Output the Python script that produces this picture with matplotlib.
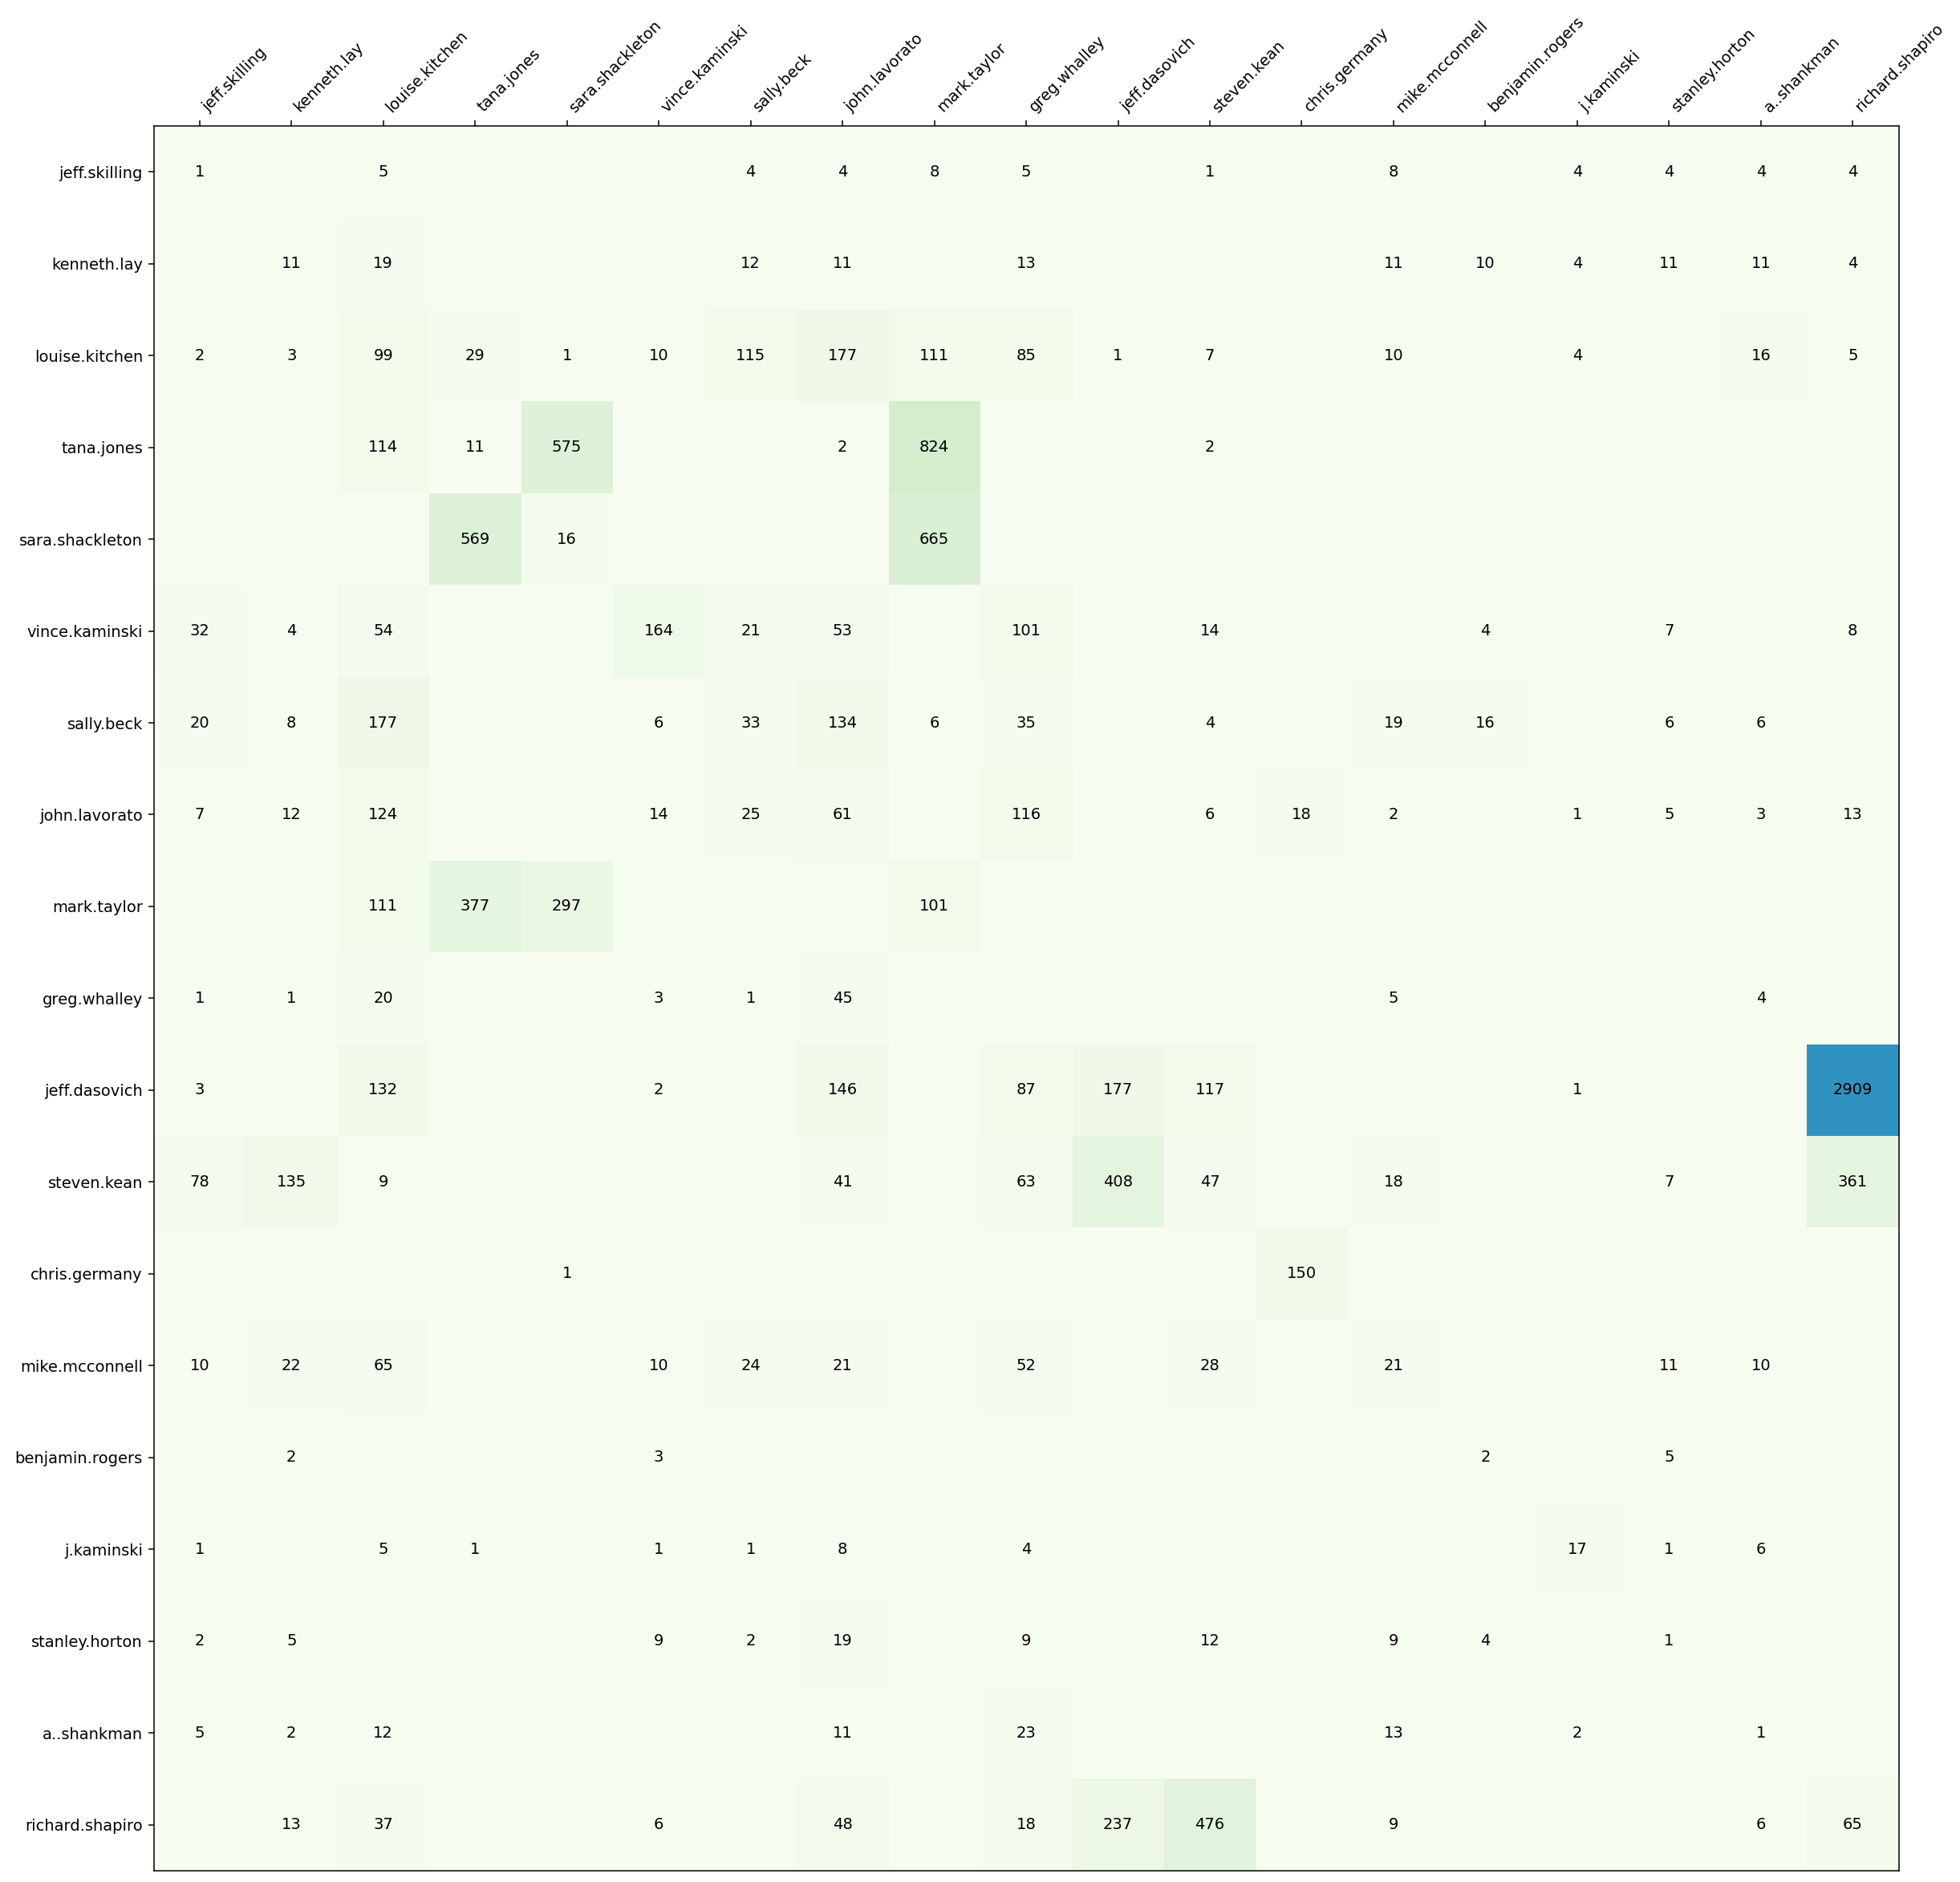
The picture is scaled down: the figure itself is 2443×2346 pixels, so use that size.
import matplotlib
matplotlib.use("Agg")
import matplotlib.pyplot as plt
import numpy as np

# people (same order on both axes)
names = ['jeff.skilling', 'kenneth.lay', 'louise.kitchen', 'tana.jones',
         'sara.shackleton', 'vince.kaminski', 'sally.beck', 'john.lavorato',
         'mark.taylor', 'greg.whalley', 'jeff.dasovich', 'steven.kean',
         'chris.germany', 'mike.mcconnell', 'benjamin.rogers', 'j.kaminski',
         'stanley.horton', 'a..shankman', 'richard.shapiro']

# email counts, one row per person
jeff_skilling   = [1, 0, 5, 0, 0, 0, 4, 4, 8, 5, 0, 1, 0, 8, 0, 4, 4, 4, 4]
kenneth_lay     = [0, 11, 19, 0, 0, 0, 12, 11, 0, 13, 0, 0, 0, 11, 10, 4, 11, 11, 4]
louise_kitchen  = [2, 3, 99, 29, 1, 10, 115, 177, 111, 85, 1, 7, 0, 10, 0, 4, 0, 16, 5]
tana_jones      = [0, 0, 114, 11, 575, 0, 0, 2, 824, 0, 0, 2, 0, 0, 0, 0, 0, 0, 0]
sara_shackleton = [0, 0, 0, 569, 16, 0, 0, 0, 665, 0, 0, 0, 0, 0, 0, 0, 0, 0, 0]
vince_kaminski  = [32, 4, 54, 0, 0, 164, 21, 53, 0, 101, 0, 14, 0, 0, 4, 0, 7, 0, 8]
sally_beck      = [20, 8, 177, 0, 0, 6, 33, 134, 6, 35, 0, 4, 0, 19, 16, 0, 6, 6, 0]
john_lavorato   = [7, 12, 124, 0, 0, 14, 25, 61, 0, 116, 0, 6, 18, 2, 0, 1, 5, 3, 13]
mark_taylor     = [0, 0, 111, 377, 297, 0, 0, 0, 101, 0, 0, 0, 0, 0, 0, 0, 0, 0, 0]
greg_whalley    = [1, 1, 20, 0, 0, 3, 1, 45, 0, 0, 0, 0, 0, 5, 0, 0, 0, 4, 0]
jeff_dasovich   = [3, 0, 132, 0, 0, 2, 0, 146, 0, 87, 177, 117, 0, 0, 0, 1, 0, 0, 2909]
steven_kean     = [78, 135, 9, 0, 0, 0, 0, 41, 0, 63, 408, 47, 0, 18, 0, 0, 7, 0, 361]
chris_germany   = [0, 0, 0, 0, 1, 0, 0, 0, 0, 0, 0, 0, 150, 0, 0, 0, 0, 0, 0]
mike_mcconnell  = [10, 22, 65, 0, 0, 10, 24, 21, 0, 52, 0, 28, 0, 21, 0, 0, 11, 10, 0]
benjamin_rogers = [0, 2, 0, 0, 0, 3, 0, 0, 0, 0, 0, 0, 0, 0, 2, 0, 5, 0, 0]
j_kaminski      = [1, 0, 5, 1, 0, 1, 1, 8, 0, 4, 0, 0, 0, 0, 0, 17, 1, 6, 0]
stanley_horton  = [2, 5, 0, 0, 0, 9, 2, 19, 0, 9, 0, 12, 0, 9, 4, 0, 1, 0, 0]
a_shankman      = [5, 2, 12, 0, 0, 0, 0, 11, 0, 23, 0, 0, 0, 13, 0, 2, 0, 1, 0]
richard_shapiro = [0, 13, 37, 0, 0, 6, 0, 48, 0, 18, 237, 476, 0, 9, 0, 0, 0, 6, 65]

counts = np.array([jeff_skilling, kenneth_lay, louise_kitchen, tana_jones,
                   sara_shackleton, vince_kaminski, sally_beck, john_lavorato,
                   mark_taylor, greg_whalley, jeff_dasovich, steven_kean,
                   chris_germany, mike_mcconnell, benjamin_rogers, j_kaminski,
                   stanley_horton, a_shankman, richard_shapiro])

fs = 14
fig = plt.figure(figsize=(24.43, 23.46), dpi=100)
ax = fig.add_axes([0.0782, 0.006, 0.8907, 0.9271])

ax.matshow(counts, cmap='GnBu', vmin=0, vmax=4000)

# annotate the non-zero cells
for i in range(counts.shape[0]):
    for j in range(counts.shape[1]):
        if counts[i, j] != 0:
            ax.text(j, i, str(counts[i, j]), ha='center', va='center',
                    color='k', fontsize=fs)

ax.set_xticks(range(len(names)))
ax.set_yticks(range(len(names)))
ax.set_xticklabels(names, rotation=45, ha='left', fontsize=fs)
ax.set_yticklabels(names, fontsize=fs)
ax.tick_params(length=4.9, width=1.1, pad=4.9)
ax.tick_params(axis='x', bottom=False, labelbottom=False)
for sp in ax.spines.values():
    sp.set_linewidth(1.1)

fig.savefig('out.png', dpi=100)
